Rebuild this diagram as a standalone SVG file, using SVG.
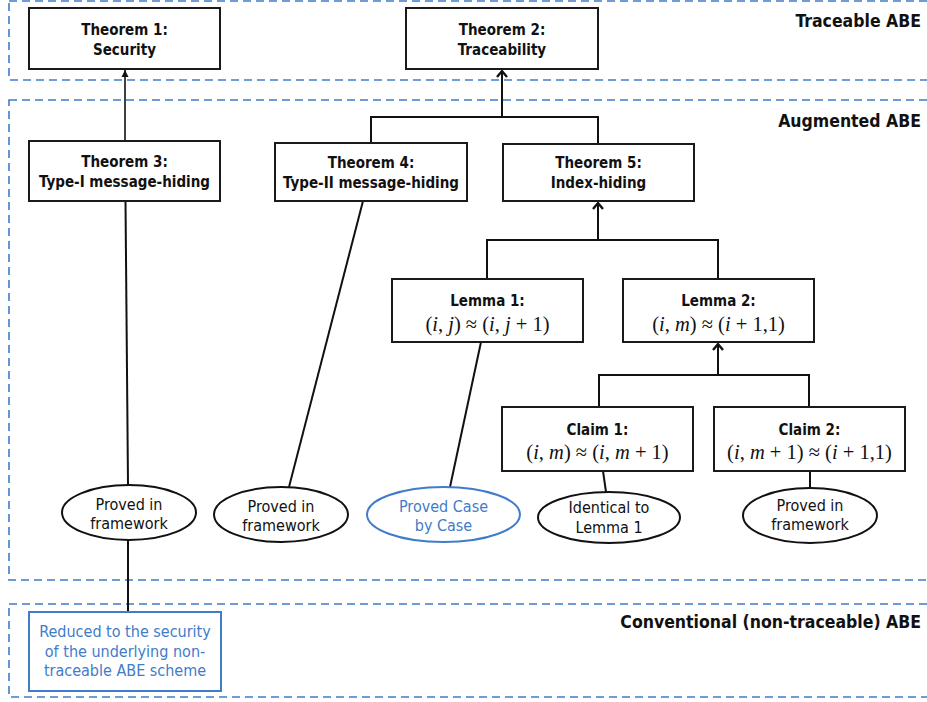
<svg xmlns="http://www.w3.org/2000/svg" width="927" height="702" viewBox="0 0 927 702">
<style>
.region{fill:none;stroke:#3f7cc9;stroke-width:1.6;stroke-dasharray:8 5}
.box{fill:#fff;stroke:#1a1a1a;stroke-width:2}
.bbox{fill:#fff;stroke:#3f7cc9;stroke-width:2}
.ell{fill:#fff;stroke:#111;stroke-width:2}
.bell{fill:#fff;stroke:#3f7cc9;stroke-width:2}
.t{font-family:"DejaVu Sans Condensed","DejaVu Sans",sans-serif;font-size:15px;font-weight:bold;fill:#111;text-anchor:middle}
.r{font-family:"DejaVu Sans Condensed","DejaVu Sans",sans-serif;font-size:16px;fill:#111;text-anchor:middle}
.rb{font-family:"DejaVu Sans Condensed","DejaVu Sans",sans-serif;font-size:16px;fill:#3f7cc9;text-anchor:middle}
.h{font-family:"DejaVu Sans Condensed","DejaVu Sans",sans-serif;font-size:17.5px;font-weight:bold;fill:#111;text-anchor:end}
.m{font-family:"Liberation Serif","Times New Roman",serif;font-size:20.5px;fill:#111;text-anchor:middle}
.m tspan.v{font-style:italic}
.c{fill:none;stroke:#111;stroke-width:2}
.c1{fill:none;stroke:#111;stroke-width:1.6}
</style>
<defs>
<marker id="ah" markerUnits="userSpaceOnUse" markerWidth="14" markerHeight="14" refX="11" refY="7" orient="auto" viewBox="0 0 14 14">
<path d="M5 2 L11 7 L5 12" fill="none" stroke="#111" stroke-width="2.4"/>
</marker>
<marker id="ahs" markerUnits="userSpaceOnUse" markerWidth="10" markerHeight="10" refX="9" refY="5" viewBox="0 0 10 10" orient="auto">
<path d="M2 1.5 L9 5 L2 8.5 Z" fill="#111"/>
</marker>
</defs>

<g id="regions">
<rect class="region" x="9" y="1" width="940" height="79"/>
<rect class="region" x="9" y="100" width="940" height="480"/>
<rect class="region" x="9" y="604" width="940" height="93"/>
<text class="h" x="921" y="27">Traceable ABE</text>
<text class="h" x="921" y="127">Augmented ABE</text>
<text class="h" x="921" y="628">Conventional (non-traceable) ABE</text>
</g>

<g id="connectors">
<line class="c1" x1="125" y1="141" x2="125" y2="70" marker-end="url(#ahs)"/>
<polyline class="c" points="371,143 371,117 598,117 598,144"/>
<line class="c" x1="502" y1="117" x2="502" y2="71" marker-end="url(#ah)"/>
<polyline class="c" points="487,279 487,240 718,240 718,279"/>
<line class="c" x1="598" y1="240" x2="598" y2="203" marker-end="url(#ah)"/>
<polyline class="c" points="599,407 599,375 809,375 809,407"/>
<line class="c" x1="718" y1="375" x2="718" y2="344" marker-end="url(#ah)"/>
<line class="c" x1="125.5" y1="201" x2="128" y2="485"/>
<line class="c" x1="128" y1="540" x2="128" y2="612"/>
<line class="c" x1="363" y1="201" x2="289" y2="487"/>
<line class="c" x1="481" y1="342" x2="450" y2="487"/>
<line class="c" x1="603" y1="471" x2="606" y2="492"/>
<line class="c" x1="810" y1="471" x2="810" y2="488"/>
</g>

<g id="thm1">
<rect class="box" x="29" y="8" width="191" height="61"/>
<text class="t" x="124.5" y="35">Theorem 1:</text>
<text class="t" x="124.5" y="55">Security</text>
</g>
<g id="thm2">
<rect class="box" x="406" y="8" width="192" height="61"/>
<text class="t" x="502" y="35">Theorem 2:</text>
<text class="t" x="502" y="55">Traceability</text>
</g>
<g id="thm3">
<rect class="box" x="29" y="141" width="191" height="60"/>
<text class="t" x="124.5" y="167">Theorem 3:</text>
<text class="t" x="124.5" y="187">Type-I message-hiding</text>
</g>
<g id="thm4">
<rect class="box" x="275" y="143" width="192" height="58"/>
<text class="t" x="371" y="168">Theorem 4:</text>
<text class="t" x="371" y="188">Type-II message-hiding</text>
</g>
<g id="thm5">
<rect class="box" x="503" y="144" width="191" height="57"/>
<text class="t" x="598.5" y="168">Theorem 5:</text>
<text class="t" x="598.5" y="188">Index-hiding</text>
</g>
<g id="lemma1">
<rect class="box" x="392" y="279" width="191" height="63"/>
<text class="t" x="487.5" y="306">Lemma 1:</text>
<text class="m" x="487.5" y="331">(<tspan class="v">i</tspan>, <tspan class="v">j</tspan>) ≈ (<tspan class="v">i</tspan>, <tspan class="v">j</tspan> + 1)</text>
</g>
<g id="lemma2">
<rect class="box" x="623" y="279" width="191" height="63"/>
<text class="t" x="718.5" y="306">Lemma 2:</text>
<text class="m" x="718.5" y="331">(<tspan class="v">i</tspan>, <tspan class="v">m</tspan>) ≈ (<tspan class="v">i</tspan> + 1,1)</text>
</g>
<g id="claim1">
<rect class="box" x="502" y="407" width="191" height="64"/>
<text class="t" x="597.5" y="435">Claim 1:</text>
<text class="m" x="597.5" y="459">(<tspan class="v">i</tspan>, <tspan class="v">m</tspan>) ≈ (<tspan class="v">i</tspan>, <tspan class="v">m</tspan> + 1)</text>
</g>
<g id="claim2">
<rect class="box" x="714" y="407" width="191" height="64"/>
<text class="t" x="809.5" y="435">Claim 2:</text>
<text class="m" x="809.5" y="459">(<tspan class="v">i</tspan>, <tspan class="v">m</tspan> + 1) ≈ (<tspan class="v">i</tspan> + 1,1)</text>
</g>
<g id="proved1">
<ellipse class="ell" cx="129" cy="512.5" rx="67" ry="27.5"/>
<text class="r" x="129" y="510">Proved in</text>
<text class="r" x="129" y="529">framework</text>
</g>
<g id="proved2">
<ellipse class="ell" cx="281" cy="514.5" rx="67" ry="27.5"/>
<text class="r" x="281" y="512">Proved in</text>
<text class="r" x="281" y="531">framework</text>
</g>
<g id="casebycase">
<ellipse class="bell" cx="443.5" cy="514.5" rx="76.5" ry="27.5"/>
<text class="rb" x="443.5" y="512">Proved Case</text>
<text class="rb" x="443.5" y="531">by Case</text>
</g>
<g id="identical">
<ellipse class="ell" cx="609" cy="517.5" rx="71" ry="25.5"/>
<text class="r" x="609" y="513">Identical to</text>
<text class="r" x="609" y="533">Lemma 1</text>
</g>
<g id="proved3">
<ellipse class="ell" cx="810" cy="515.5" rx="67" ry="27.5"/>
<text class="r" x="810" y="511">Proved in</text>
<text class="r" x="810" y="530">framework</text>
</g>
<g id="reduced">
<rect class="bbox" x="29" y="612" width="192" height="79"/>
<text class="rb" x="125" y="637">Reduced to the security</text>
<text class="rb" x="125" y="657">of the underlying non-</text>
<text class="rb" x="125" y="676">traceable ABE scheme</text>
</g>
</svg>
